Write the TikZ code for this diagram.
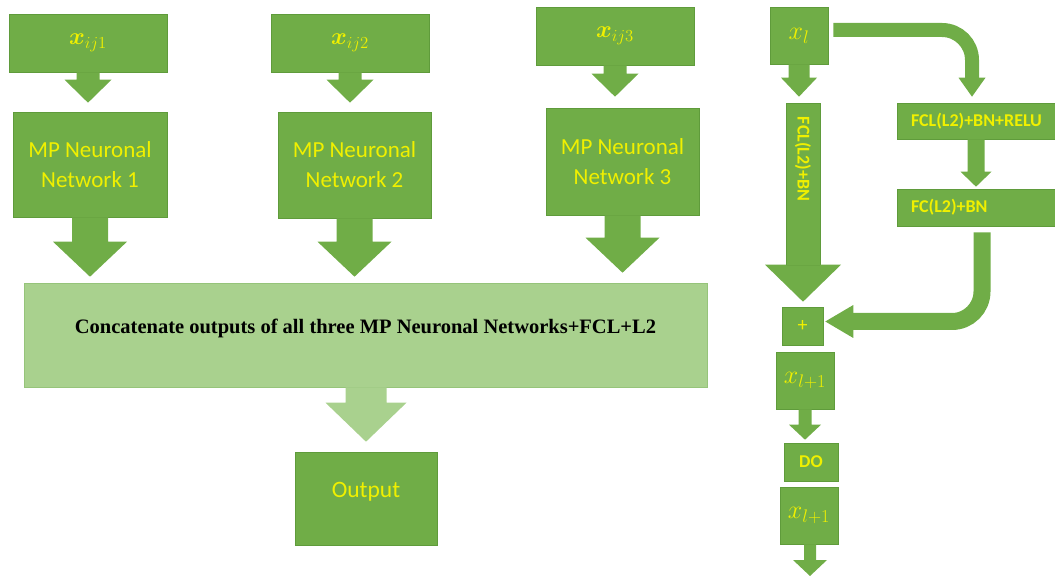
\RequirePackage{fix-cm}
\documentclass[tikz,border=0pt]{standalone}
\usepackage{amsmath}
\usepackage[no-math]{fontspec}
\setmainfont{Carlito}
\newfontfamily\timesfont{Liberation Serif}
\usetikzlibrary{calc}

\definecolor{grn}{HTML}{70AD47}
\definecolor{grnedge}{HTML}{5F9B3B}
\definecolor{lgrn}{HTML}{A9D18E}
\definecolor{lgrnedge}{HTML}{96C47A}
\definecolor{yel}{HTML}{F0F000}

\newcommand{\mpsize}{\fontsize{23}{30}\selectfont}
\newcommand{\smallbold}{\fontsize{18}{22}\selectfont\bfseries}
\newcommand{\mathsize}{\fontsize{26}{30}\selectfont}

% block arrow: [style]{from}{tip}{shaft half}{head half}{head length}
\newcommand{\blockdown}[6][arr]{%
  \fill[#1] let \p1=(#2), \p2=(#3) in
    (\x2-#4,\y1) -- (\x2-#4,\y2+#6) -- (\x2-#5,\y2+#6) -- (\x2,\y2)
    -- (\x2+#5,\y2+#6) -- (\x2+#4,\y2+#6) -- (\x2+#4,\y1) -- cycle;}
% heads for the bent arrows: [style]{tip}{head half}{head length}
\newcommand{\headdown}[4][arr]{%
  \fill[#1] let \p1=(#2) in (\x1,\y1) -- (\x1-#3,\y1+#4) -- (\x1+#3,\y1+#4) -- cycle;}
\newcommand{\headleft}[4][arr]{%
  \fill[#1] let \p1=(#2) in (\x1,\y1) -- (\x1+#4,\y1+#3) -- (\x1+#4,\y1-#3) -- cycle;}

\tikzset{
  box/.style={draw=grnedge, line width=0.6pt, fill=grn, text=yel, inner sep=0pt},
  lbox/.style={draw=lgrnedge, line width=0.6pt, fill=lgrn, inner sep=0pt},
  arr/.style={fill=grn},
  larr/.style={fill=lgrn},
  shaft/.style={draw=grn, rounded corners=30pt}
}

\begin{document}
\begin{tikzpicture}[x=1pt, y=-1pt]
  \useasboundingbox (0,0) rectangle (1055,577);

  % three networks
  \node[box, minimum width=158pt, minimum height=58pt, font=\fontsize{24}{28}\selectfont] (xa) at (88,43) {$\boldsymbol{x}_{ij1}$};
  \node[box, minimum width=158pt, minimum height=58pt, font=\fontsize{24}{28}\selectfont] (xb) at (350,43) {$\boldsymbol{x}_{ij2}$};
  \node[box, minimum width=158pt, minimum height=58pt, font=\fontsize{24}{28}\selectfont] (xc) at (615,36) {$\boldsymbol{x}_{ij3}$};
  \node[box, minimum width=154pt, minimum height=105pt, align=center, font=\mpsize] (mpa) at (90,164.5) {MP Neuronal\\Network 1};
  \node[box, minimum width=153pt, minimum height=106pt, align=center, font=\mpsize] (mpb) at (354.5,165) {MP Neuronal\\Network 2};
  \node[box, minimum width=153pt, minimum height=107pt, align=center, font=\mpsize] (mpc) at (622.5,161.5) {MP Neuronal\\Network 3};
  \node[lbox, minimum width=683pt, minimum height=104pt, text height=15pt, text depth=17pt,
        font=\timesfont\bfseries\fontsize{20.5}{24}\selectfont] (concat) at (365.5,335)
        {Concatenate outputs of all three MP Neuronal Networks+FCL+L2};
  \node[box, minimum width=142pt, minimum height=93pt, text height=15pt, text depth=17pt, font=\fontsize{23.5}{28}\selectfont] (out) at (366,498.5) {Output};

  \blockdown{xa.south}{$(xa.south |- mpa.north)+(0,-9)$}{11.5pt}{23.5pt}{23pt}
  \blockdown{xb.south}{$(xb.south |- mpb.north)+(0,-9)$}{11.5pt}{23.5pt}{23pt}
  \blockdown{xc.south}{$(xc.south |- mpc.north)+(0,-11)$}{11.5pt}{23.5pt}{23pt}
  \blockdown{mpa.south}{$(mpa.south |- concat.north)+(0,-6)$}{18pt}{37pt}{35pt}
  \blockdown{mpb.south}{$(mpb.south |- concat.north)+(0,-6)$}{18pt}{37pt}{35pt}
  \blockdown{mpc.south}{$(mpc.south |- concat.north)+(0,-10)$}{18pt}{37pt}{35pt}
  \blockdown[larr]{concat.south -| out.north}{$(out.north)+(0,-10)$}{20.5pt}{40.5pt}{39pt}

  % residual block
  \node[box, minimum width=58pt, minimum height=57pt, font=\mathsize] (xl) at (799,35.5) {$x_l$};
  \node[box, minimum width=34pt, minimum height=162pt, inner ysep=14pt, text height=0pt, text depth=134pt,
        font=\smallbold] (fclbn) at (803,184) {\rotatebox{-90}{FCL(L2)+BN}};
  \node[box, minimum width=158pt, minimum height=36pt, text width=130pt, inner xsep=14pt, align=left, font=\smallbold] (relu) at (976,121) {FCL(L2)+BN+RELU};
  \node[box, minimum width=158pt, minimum height=37pt, text width=130pt, inner xsep=14pt, align=left, font=\smallbold] (fc) at (976,207.5) {FC(L2)+BN};
  \node[box, minimum width=41pt, minimum height=38pt, font=\fontsize{20}{24}\selectfont] (plus) at (802.5,326) {+};
  \node[box, minimum width=58pt, minimum height=57pt, font=\mathsize] (xla) at (805,380.5) {$x_{l+1}$};
  \node[box, minimum width=54pt, minimum height=38pt, font=\smallbold] (dobox) at (811,462) {DO};
  \node[box, minimum width=58pt, minimum height=57pt, font=\mathsize] (xlb) at (809,515.5) {$x_{l+1}$};
  \coordinate (outend) at (810,576);

  \blockdown{xl.south}{$(xl.south |- fclbn.north)+(0,-6)$}{10.5pt}{18pt}{19pt}
  \blockdown{fclbn.south}{$(fclbn.south |- plus.north)+(0,-5)$}{17pt}{38pt}{37pt}
  \blockdown{relu.south}{$(relu.south |- fc.north)+(0,-2)$}{8.5pt}{15.5pt}{15pt}
  \blockdown{xla.south}{$(xla.south |- dobox.north)+(0,-3)$}{6.5pt}{16pt}{15pt}
  \blockdown{xlb.south}{outend}{6pt}{17pt}{16pt}

  \draw[shaft, line width=14pt] ([xshift=5pt,yshift=5.5pt]xl.east) -| ($(relu.north)+(-4,-24)$);
  \headdown{$(relu.north)+(-4,-6)$}{13.5pt}{19pt}
  \draw[shaft, line width=17pt] ($(fc.south)+(6,6)$) |- ($(plus.east)+(29,-4.5)$);
  \headleft{$(plus.east)+(2,-4.5)$}{16.5pt}{28pt}
\end{tikzpicture}
\end{document}
